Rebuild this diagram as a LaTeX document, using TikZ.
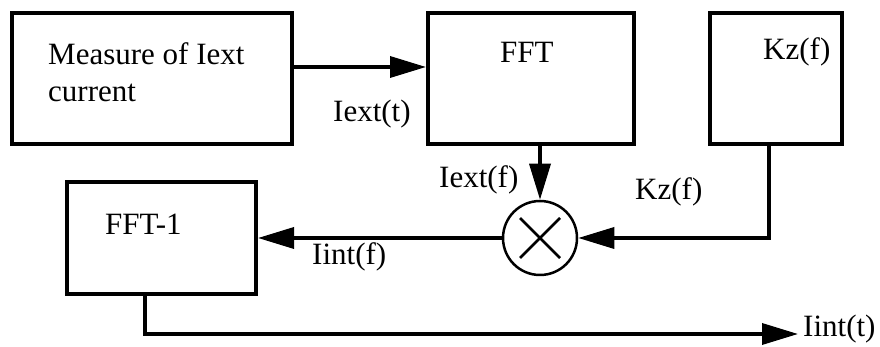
\documentclass[tikz,border=0pt]{standalone}
\usepackage{fontspec}
\setmainfont{Liberation Serif}
\usetikzlibrary{arrows.meta}

\begin{document}
\begin{tikzpicture}[x=1pt, y=1pt,
    bloque/.style={draw, line width=4pt, inner sep=0pt},
    flecha/.style={line width=3.5pt, -{Triangle[length=36pt, width=21pt]}},
    texto/.style={anchor=base west, inner sep=0pt, font=\fontsize{31}{37}\selectfont}]
    \useasboundingbox (0,0) rectangle (880,347);
    % Bloques
    \node[bloque, minimum width=280pt, minimum height=131pt] (medida) at (152,268.5) {};
    \node[bloque, minimum width=206pt, minimum height=131pt] (fft) at (531,268.5) {};
    \node[bloque, minimum width=132pt, minimum height=131pt] (kz) at (776,268.5) {};
    \node[bloque, minimum width=189pt, minimum height=112pt] (ifft) at (161.5,109) {};
    % Multiplicador
    \node[draw, circle, line width=2.5pt, minimum size=74pt, inner sep=0pt] (mul) at (540,109) {};
    \draw[line width=2.5pt] ([shift={(-20,-20)}]mul.center) -- ([shift={(20,20)}]mul.center);
    \draw[line width=2.5pt] ([shift={(-20,20)}]mul.center) -- ([shift={(20,-20)}]mul.center);
    % Textos dentro de los bloques
    \node[texto, align=left] (tmedida) at (48,245) {Measure of Iext\\current};
    \node[texto] (tfft) at (500,284) {FFT};
    \node[texto] (tkz) at (763,287) {Kz(f)};
    \node[texto] (tifft) at (105,112) {FFT-1};
    % Conexiones
    \draw[flecha] (medida.east |- 0,280) -- (fft.west |- 0,280);
    \draw[flecha] (fft.south -| mul) -- (mul);
    \draw[flecha] (kz.south -| 769,0) |- (mul);
    \draw[flecha] (mul) -- (ifft);
    \coordinate (fin) at (798,13);
    \draw[flecha] (ifft.south -| 145,0) |- (fin);
    % Etiquetas de las senales
    \node[texto] (iextt) at (333,225) {Iext(t)};
    \node[texto] (iextf) at (439,159) {Iext(f)};
    \node[texto] (kzf) at (635,147) {Kz(f)};
    \node[texto] (iintf) at (312,82) {Iint(f)};
    \node[texto] (iintt) at (803,10) {Iint(t)};
\end{tikzpicture}
\end{document}
